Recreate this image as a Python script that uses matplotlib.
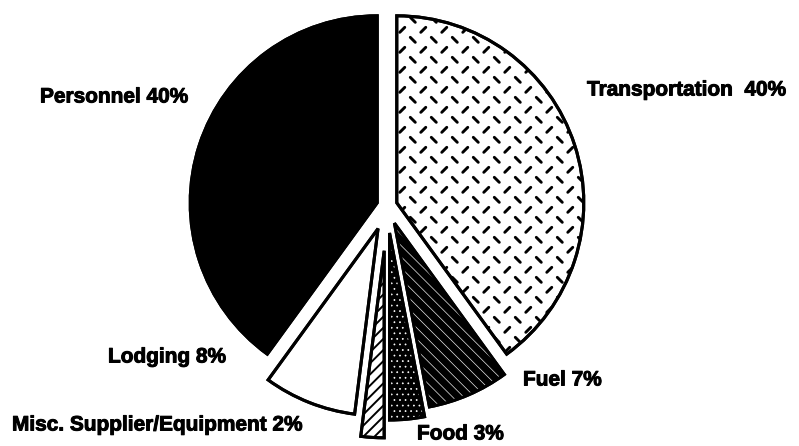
import matplotlib
matplotlib.use("Agg")
import matplotlib.pyplot as plt
import matplotlib.patheffects as pe
import numpy as np
from matplotlib.collections import LineCollection
from matplotlib.patches import Wedge

# ---- data ----
categories = ["Transportation", "Fuel", "Food", "Misc. Supplier/Equipment", "Lodging", "Personnel"]
shares = [40, 7, 3, 2, 8, 40]
labels = ["Transportation  40%", "Fuel 7%", "Food 3%", "Misc. Supplier/Equipment 2%", "Lodging 8%", "Personnel 40%"]

# ---- layout (pixels) ----
W, H = 799, 446
R = 187
CX, CY = 387, H - 206
explode_frac = [0.055, 0.10, 0.145, 0.24, 0.13, 0.055]
label_pos = {  # left x, centre y (pixel, from top)
    "Transportation  40%": (587, 90),
    "Fuel 7%": (523, 380),
    "Food 3%": (417, 434),
    "Misc. Supplier/Equipment 2%": (12, 425),
    "Lodging 8%": (108, 357),
    "Personnel 40%": (40, 97),
}

fig = plt.figure(figsize=(W / 100, H / 100), dpi=100)
ax = fig.add_axes([0, 0, 1, 1])

wedges, _ = ax.pie(shares, explode=[e * R for e in explode_frac], radius=R,
                   center=(CX, CY), startangle=90, counterclock=False,
                   wedgeprops=dict(linewidth=2.2, edgecolor="black"))
ax.set_xlim(0, W)
ax.set_ylim(0, H)
ax.set_aspect("equal")
ax.axis("off")

LW = 2.2


def twin(w, hlw=None, **kw):
    if hlw is not None:
        with plt.rc_context({"hatch.linewidth": hlw}):
            p = Wedge(w.center, w.r, w.theta1, w.theta2, **kw)
        if hasattr(p, "set_hatch_linewidth"):
            p.set_hatch_linewidth(hlw)
    else:
        p = Wedge(w.center, w.r, w.theta1, w.theta2, **kw)
    ax.add_patch(p)
    return p


for w, cat in zip(wedges, categories):
    w.set_zorder(1)
    if cat == "Transportation":
        w.set_facecolor("white")
        # diamond-plate dash pattern clipped to the wedge
        segs = []
        xs0, ys0 = w.center[0] - 5, w.center[1] - R - 10
        L = 2.5
        for j, y in enumerate(np.arange(ys0, w.center[1] + R + 10, 10.0)):
            off = 10.5 if j % 2 else 0.0
            s = 1 if j % 2 else -1
            for x in np.arange(xs0 + off, w.center[0] + R + 10, 21.0):
                segs.append([(x - L, y - s * L), (x + L, y + s * L)])
        lc = LineCollection(segs, colors="black", linewidths=2.1, capstyle="round", zorder=2)
        ax.add_collection(lc)
        lc.set_clip_path(w)
    elif cat == "Fuel":
        w.set_facecolor("black")
        twin(w, hlw=0.5, facecolor="none", edgecolor="#e8e8e8", linewidth=0, hatch="\\\\\\", zorder=2)
    elif cat == "Food":
        w.set_facecolor("black")
        twin(w, hlw=0.5, facecolor="none", edgecolor="white", linewidth=0, hatch="...", zorder=2)
    elif cat.startswith("Misc"):
        w.set_facecolor("white")
        twin(w, hlw=1.4, facecolor="none", edgecolor="black", linewidth=0, hatch="///", zorder=2)
    elif cat == "Lodging":
        w.set_facecolor("white")
    else:
        w.set_facecolor("black")
    twin(w, facecolor="none", edgecolor="black", linewidth=LW, zorder=3)

for lab in labels:
    x, y = label_pos[lab]
    ax.text(x, H - y, lab, ha="left", va="center", fontsize=15, fontweight="bold",
            family=["Liberation Sans", "DejaVu Sans"], color="black",
            path_effects=[pe.withStroke(linewidth=0.7, foreground="black")])

fig.savefig("out.png", dpi=100)
